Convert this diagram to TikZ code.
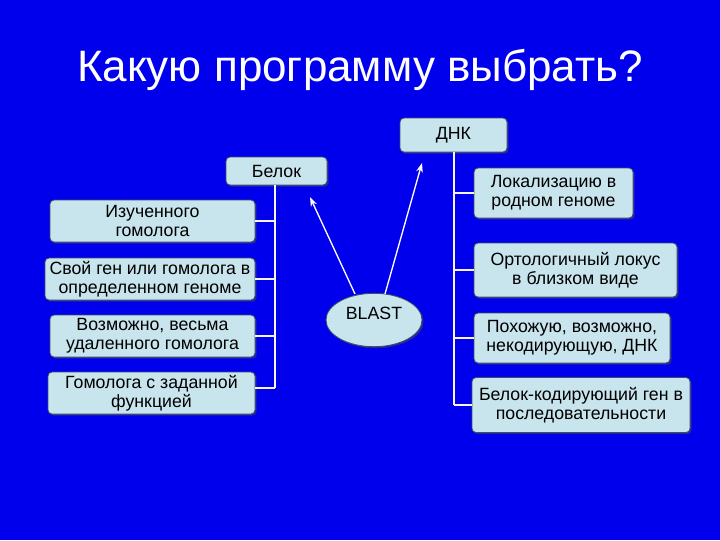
\documentclass[tikz,border=0pt]{standalone}
\usepackage{fontspec}
\setmainfont{Liberation Sans}
\usetikzlibrary{shadows,shapes.geometric,arrows.meta}
\definecolor{bg}{RGB}{0,0,236}
\definecolor{boxfill}{RGB}{200,228,236}
\definecolor{boxline}{RGB}{60,80,100}
\tikzset{
  bx/.style={draw=boxline,fill=boxfill,rounded corners=3pt,line width=0.6pt,
    align=center,font=\fontsize{13.3}{14.5}\selectfont,inner sep=0pt,
    drop shadow={shadow xshift=1.2pt,shadow yshift=-1.2pt,fill=black!70}},
  conn/.style={draw=white!92!gray,line width=1.2pt},
  arr/.style={draw=white,line width=1pt,-{Stealth[length=7pt,width=5pt]}}
}
\begin{document}
\begin{tikzpicture}[x=0.75pt,y=-0.75pt]
\fill[bg] (0,0) rectangle (720,540);
\useasboundingbox (0,0) rectangle (720,540);
\node[text=white,font=\fontsize{33}{35}\selectfont] (title) at (360,70) {Какую программу выбрать?};
\node[bx,minimum width=80.25pt,minimum height=25.5pt] (dnk) at (453.5,135) {ДНК};
\node[bx,minimum width=75.75pt,minimum height=21pt] (belok) at (276.5,171) {Белок};
\node[bx,minimum width=119.25pt,minimum height=37.5pt] (r1) at (553.5,193) {Локализацию в\\родном геноме};
\node[bx,minimum width=153.75pt,minimum height=31.5pt] (l1) at (152.5,221) {Изученного\\гомолога};
\node[bx,minimum width=157.5pt,minimum height=31.5pt] (l2) at (150,279) {Свой ген или гомолога в\\определенном геноме};
\node[bx,minimum width=152.25pt,minimum height=40.5pt] (r2) at (575.5,270) {Ортологичный локус\\в близком виде};
\node[bx,minimum width=153.75pt,minimum height=31.5pt] (l3) at (152.5,336) {Возможно, весьма\\удаленного гомолога};
\node[bx,minimum width=147pt,minimum height=37.5pt] (r3) at (572,338) {Похожую, возможно,\\некодирующую, ДНК};
\node[bx,minimum width=155.25pt,minimum height=31.5pt] (l4) at (151.5,393) {Гомолога с заданной\\функцией};
\node[bx,minimum width=163.5pt,minimum height=41.25pt] (r4) at (581,405) {Белок-кодирующий ген в\\последовательности};
\node[bx,ellipse,minimum width=72pt,minimum height=40pt,inner sep=0pt,text depth=10pt] (blast) at (374,320) {BLAST};
% left bracket
\coordinate (lt) at (275,185);
\coordinate (lb) at (275,388);
\draw[conn] (lt) -- (lb);
\draw[conn] (l1.east) -- (275,221);
\draw[conn] (l2.east) -- (275,279);
\draw[conn] (l3.east) -- (275,336);
\draw[conn] (l4.east |- lb) -- (lb);
% right bracket
\coordinate (rt) at (454,152);
\coordinate (rb) at (454,405);
\draw[conn] (rt) -- (rb);
\draw[conn] (454,193) -- (r1.west);
\draw[conn] (454,270) -- (r2.west);
\draw[conn] (454,338) -- (r3.west);
\draw[conn] (rb) -- (r4.west);
% arrows
\coordinate (a1) at (310,197);
\coordinate (a2) at (422,163);
\draw[arr] (355,294) -- (a1);
\draw[arr] (385,294) -- (a2);
\end{tikzpicture}
\end{document}
